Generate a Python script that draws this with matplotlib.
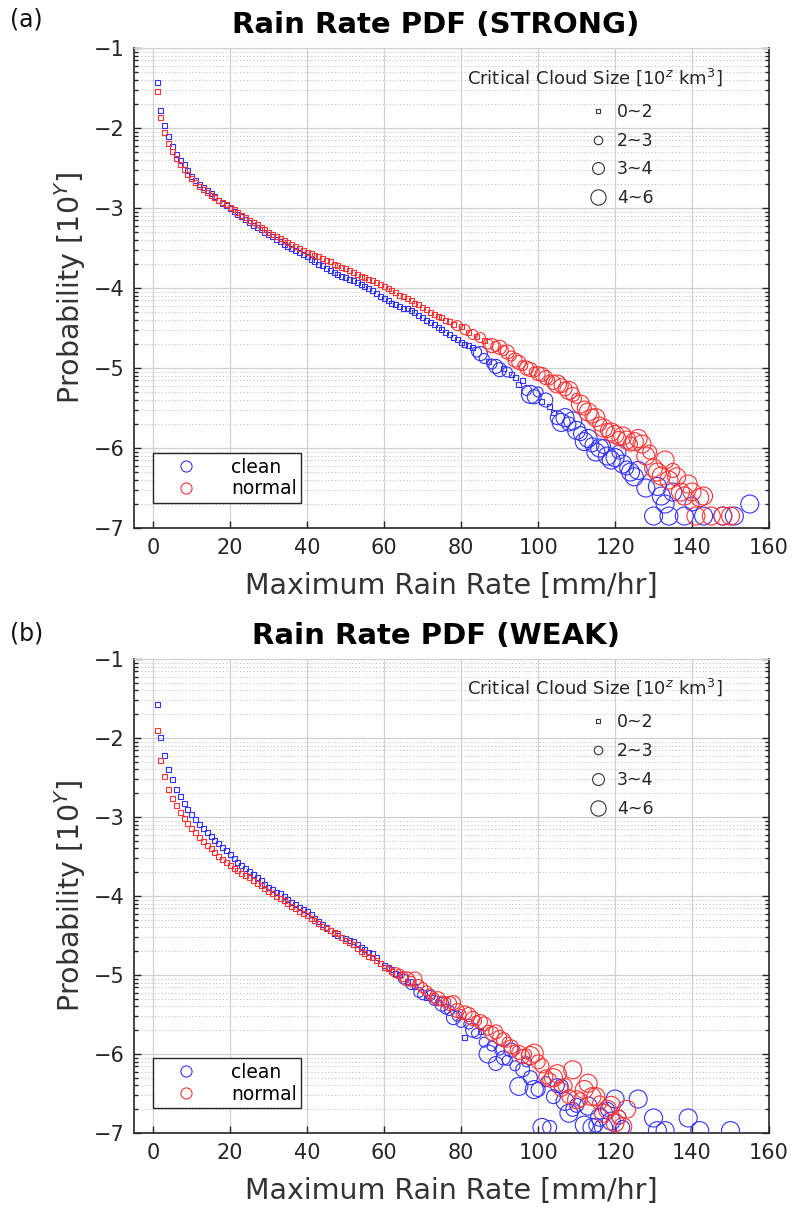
import numpy as np
import matplotlib.pyplot as plt
from matplotlib.lines import Line2D
from matplotlib.ticker import FixedLocator, FuncFormatter

# log10(probability) per 1 mm/hr bin
# ---- (a) STRONG ----
a_clean_head = [-1.43, -1.78, -1.97, -2.11, -2.23, -2.33, -2.40, -2.46, -2.53, -2.60,
                -2.65, -2.70, -2.74, -2.78, -2.82, -2.86, -2.90, -2.94, -2.97, -3.01,
                -3.04, -3.08, -3.11, -3.14, -3.18, -3.22, -3.24, -3.27, -3.30, -3.33,
                -3.36, -3.39, -3.42, -3.46, -3.48, -3.51, -3.53, -3.56, -3.58, -3.61,
                -3.64, -3.67, -3.70, -3.72, -3.75, -3.78, -3.80, -3.83, -3.85, -3.87,
                -3.89, -3.91, -3.93, -3.95, -3.98, -4.00, -4.03, -4.07, -4.10, -4.13,
                -4.16, -4.19, -4.21, -4.23, -4.25, -4.26, -4.28, -4.31, -4.34, -4.37,
                -4.40, -4.43, -4.46, -4.49, -4.52, -4.55]
a_clean_tail_x = [77, 78, 79, 80, 81, 82, 83, 84, 85, 86, 87, 88, 89, 90, 91, 92, 93, 94, 95, 96,
                  97, 98, 99, 100, 101, 102, 103, 104, 105, 106, 107, 108, 109, 110, 111, 112,
                  113, 114, 115, 116, 117, 118, 119, 120, 121, 122, 123, 124, 125, 126, 128,
                  130, 131, 132, 133, 134, 135, 138, 140, 143, 148, 151, 155]
a_clean_tail_y = [-4.58, -4.62, -4.64, -4.68, -4.70, -4.72, -4.74, -4.80, -4.82, -4.88, -4.92,
                  -4.95, -4.98, -5.02, -5.00, -5.05, -5.08, -5.12, -5.20, -5.16, -5.28, -5.33,
                  -5.36, -5.30, -5.42, -5.40, -5.48, -5.55, -5.62, -5.68, -5.62, -5.70, -5.66,
                  -5.78, -5.82, -5.92, -5.88, -5.96, -6.05, -6.00, -5.98, -6.10, -6.15, -6.12,
                  -6.05, -6.20, -6.25, -6.30, -6.36, -6.28, -6.50, -6.85, -6.48, -6.60, -6.70,
                  -6.85, -6.55, -6.85, -6.70, -6.85, -6.85, -6.85, -6.70]
a_clean_tail_c = [1, 1, 1, 1, 1, 1, 1, 2, 3, 2, 1, 2, 3, 3, 1, 2, 1, 1, 1, 1, 2, 4, 3, 2, 1, 3,
                  1, 1, 3, 4, 4, 3, 4, 4, 3, 4, 4, 3, 4, 4, 3, 4, 4, 4, 3, 4, 3, 4, 4, 4, 4,
                  4, 4, 4, 4, 4, 4, 4, 3, 4, 4, 4, 4]

a_normal_head = [-1.55, -1.87, -2.05, -2.19, -2.29, -2.38, -2.46, -2.52, -2.58, -2.63,
                 -2.68, -2.73, -2.77, -2.81, -2.84, -2.87, -2.90, -2.93, -2.96, -2.99,
                 -3.02, -3.06, -3.09, -3.12, -3.15, -3.18, -3.21, -3.24, -3.27, -3.30,
                 -3.33, -3.36, -3.38, -3.41, -3.43, -3.46, -3.48, -3.50, -3.53, -3.55,
                 -3.57, -3.59, -3.61, -3.63, -3.65, -3.67, -3.70, -3.72, -3.74, -3.76,
                 -3.78, -3.80, -3.83, -3.85, -3.87, -3.89, -3.91, -3.93, -3.96, -3.98,
                 -4.00, -4.03, -4.06, -4.09, -4.11, -4.13, -4.16, -4.19, -4.21, -4.24,
                 -4.27, -4.30, -4.33, -4.35, -4.37, -4.40]
a_normal_tail_x = [77, 78, 79, 80, 81, 82, 83, 84, 85, 86, 87, 88, 89, 90, 91, 92, 93, 94, 95,
                   96, 97, 98, 99, 100, 101, 102, 103, 104, 105, 106, 107, 108, 109, 110, 111,
                   112, 113, 114, 115, 116, 117, 118, 119, 120, 121, 122, 123, 124, 125, 126,
                   127, 128, 129, 130, 131, 132, 133, 134, 135, 136, 137, 138, 139, 140, 141,
                   142, 143, 145, 148, 150]
a_normal_tail_y = [-4.42, -4.45, -4.47, -4.48, -4.52, -4.55, -4.58, -4.60, -4.62, -4.66, -4.70,
                   -4.72, -4.73, -4.74, -4.78, -4.80, -4.85, -4.90, -4.93, -4.97, -5.00, -5.02,
                   -5.05, -5.07, -5.08, -5.12, -5.15, -5.18, -5.20, -5.22, -5.26, -5.28, -5.33,
                   -5.38, -5.45, -5.50, -5.55, -5.60, -5.62, -5.70, -5.75, -5.78, -5.80, -5.83,
                   -5.88, -5.85, -5.90, -5.95, -5.92, -5.88, -5.95, -6.10, -6.05, -6.25, -6.30,
                   -6.35, -6.15, -6.40, -6.28, -6.36, -6.55, -6.60, -6.45, -6.55, -6.85, -6.62,
                   -6.60, -6.85, -6.85, -6.85]
a_normal_tail_c = [1, 1, 2, 1, 2, 1, 2, 1, 2, 1, 2, 3, 2, 3, 2, 3, 2, 3, 3, 2, 3, 3, 2, 3, 3,
                   3, 2, 3, 4, 3, 3, 4, 3, 2, 4, 3, 4, 3, 4, 3, 4, 3, 4, 4, 3, 4, 4, 3, 4, 4,
                   4, 4, 3, 4, 4, 4, 4, 4, 3, 4, 4, 4, 4, 4, 4, 4, 4, 4, 4, 4]

# ---- (b) WEAK ----
b_clean_head = [-1.57, -1.99, -2.22, -2.40, -2.53, -2.65, -2.74, -2.83, -2.91, -2.97,
                -3.03, -3.09, -3.15, -3.20, -3.25, -3.30, -3.34, -3.38, -3.42, -3.47,
                -3.52, -3.57, -3.61, -3.65, -3.69, -3.73, -3.77, -3.81, -3.85, -3.89,
                -3.92, -3.95, -3.97, -4.01, -4.05, -4.08, -4.11, -4.14, -4.17, -4.20,
                -4.24, -4.28, -4.32, -4.36, -4.40, -4.44, -4.47, -4.50, -4.52, -4.54,
                -4.56, -4.58, -4.62, -4.65, -4.68, -4.71, -4.73]
b_clean_tail_x = [58, 59, 60, 61, 62, 63, 64, 65, 66, 67, 68, 69, 70, 71, 72, 73, 74, 75, 76,
                  77, 78, 79, 80, 81, 82, 83, 84, 85, 86, 87, 88, 89, 90, 91, 92, 93, 94, 95,
                  96, 97, 98, 99, 100, 101, 102, 103, 104, 105, 106, 107, 108, 109, 110, 112,
                  113, 114, 115, 116, 117, 118, 119, 120, 121, 122, 126, 130, 131, 133, 139,
                  142, 150]
b_clean_tail_y = [-4.78, -4.85, -4.88, -4.90, -4.93, -4.98, -5.00, -5.05, -5.08, -5.12, -5.15,
                  -5.22, -5.25, -5.28, -5.26, -5.32, -5.35, -5.37, -5.43, -5.45, -5.54, -5.52,
                  -5.60, -5.79, -5.62, -5.70, -5.74, -5.72, -5.85, -6.00, -5.90, -6.12, -5.95,
                  -6.05, -6.08, -5.95, -6.15, -6.41, -6.20, -6.10, -6.30, -6.45, -6.45, -6.93,
                  -6.35, -6.93, -6.54, -6.40, -6.41, -6.60, -6.75, -6.70, -6.65, -6.90, -6.66,
                  -6.93, -6.90, -6.80, -6.93, -6.70, -6.85, -6.57, -6.80, -6.93, -6.57, -6.81,
                  -6.97, -6.97, -6.81, -6.97, -6.97]
b_clean_tail_c = [1, 1, 1, 1, 1, 1, 1, 2, 1, 2, 1, 2, 2, 1, 2, 2, 1, 3, 2, 2, 3, 2, 2, 1, 2,
                  3, 2, 1, 2, 4, 2, 3, 2, 3, 2, 3, 2, 4, 3, 2, 3, 4, 3, 4, 2, 3, 3, 3, 3, 4,
                  4, 3, 3, 4, 4, 4, 3, 4, 4, 3, 4, 4, 3, 3, 4, 4, 4, 4, 4, 4, 4]

b_normal_head = [-1.90, -2.28, -2.49, -2.65, -2.76, -2.85, -2.94, -3.02, -3.08, -3.14,
                 -3.20, -3.26, -3.31, -3.36, -3.40, -3.45, -3.50, -3.54, -3.58, -3.62,
                 -3.65, -3.68, -3.71, -3.74, -3.77, -3.80, -3.84, -3.87, -3.91, -3.94,
                 -3.97, -4.00, -4.03, -4.06, -4.10, -4.13, -4.16, -4.19, -4.22, -4.25,
                 -4.28, -4.31, -4.35, -4.38, -4.41, -4.44, -4.46, -4.48, -4.52, -4.56,
                 -4.59, -4.62, -4.66, -4.70, -4.73, -4.76, -4.78]
b_normal_tail_x = [58, 59, 60, 61, 62, 63, 64, 65, 66, 67, 68, 69, 70, 71, 72, 73, 74, 75, 76,
                   77, 78, 79, 80, 81, 82, 83, 84, 85, 86, 87, 88, 89, 90, 91, 92, 93, 94, 95,
                   96, 97, 98, 99, 100, 101, 102, 103, 104, 105, 106, 107, 108, 109, 110, 111,
                   112, 113, 114, 115, 116, 117, 118, 119, 120, 121, 122, 123]
b_normal_tail_y = [-4.82, -4.86, -4.90, -4.92, -4.96, -4.97, -4.99, -5.02, -5.05, -5.08, -5.05,
                   -5.12, -5.16, -5.20, -5.24, -5.29, -5.30, -5.33, -5.34, -5.36, -5.35, -5.45,
                   -5.50, -5.48, -5.50, -5.55, -5.58, -5.59, -5.62, -5.70, -5.74, -5.72, -5.79,
                   -5.82, -5.85, -5.91, -5.95, -5.98, -6.03, -6.00, -6.02, -5.99, -6.10, -6.15,
                   -6.29, -6.33, -6.30, -6.25, -6.45, -6.40, -6.54, -6.20, -6.58, -6.58, -6.45,
                   -6.37, -6.54, -6.54, -6.62, -6.75, -6.70, -6.65, -6.87, -6.80, -6.92, -6.70]
b_normal_tail_c = [1, 1, 1, 1, 1, 2, 2, 2, 3, 2, 3, 2, 2, 2, 2, 2, 3, 2, 2, 3, 3, 3, 2, 3, 3,
                   3, 2, 3, 3, 2, 3, 3, 3, 3, 2, 3, 2, 3, 3, 2, 4, 4, 3, 3, 3, 3, 4, 4, 3, 3,
                   3, 4, 4, 3, 4, 4, 4, 4, 3, 4, 4, 4, 4, 3, 4, 4]

size_labels = ['0~2', '2~3', '3~4', '4~6']
marker_px = {1: 5, 2: 10, 3: 14, 4: 18}  # diameter in pixels


def series(head, tx, ty, tc):
    x = np.concatenate([np.arange(1, len(head) + 1), tx])
    y = np.concatenate([head, ty])
    c = np.concatenate([np.ones(len(head), dtype=int), tc])
    return x, y, c


def draw(ax, data, title):
    for (x, y, c), col in data:
        for k in (1, 2, 3, 4):
            m = c == k
            d = marker_px[k] * 72 / 100.0
            ax.scatter(x[m], y[m], s=d ** 2, marker='s' if k == 1 else 'o',
                       facecolors='none', edgecolors=col, linewidths=0.8, zorder=3)

    ax.set_xlim(-5, 160)
    ax.set_ylim(-7, -1)
    ax.set_xticks(np.arange(0, 161, 20))
    ax.set_yticks(np.arange(-7, -0.5, 1))
    minors = [d + np.log10(k) for d in range(-7, -1) for k in range(2, 10)]
    ax.yaxis.set_minor_locator(FixedLocator(minors))
    ax.yaxis.set_major_formatter(FuncFormatter(lambda v, p: '\u2212%d' % abs(v)))
    ax.grid(True, which='major', color='#d0d0d0', lw=0.9, zorder=0)
    ax.grid(True, which='minor', axis='y', color='#b8b8b8', lw=0.7, ls=(0, (1, 2.5)), zorder=0)
    ax.tick_params(which='both', direction='in', right=True, labelsize=15,
                   colors='#262626', width=1.0, pad=7)
    ax.tick_params(which='major', length=5)
    ax.tick_params(which='minor', length=3)
    for s in ('left', 'bottom', 'right'):
        ax.spines[s].set_color('#262626')
        ax.spines[s].set_linewidth(1.2)
    ax.spines['top'].set_color('#d0d0d0')
    ax.set_title(title, fontsize=21, fontweight='bold', pad=11, x=0.475)
    ax.set_xlabel('Maximum Rain Rate [mm/hr]', fontsize=20.5, color='#333333', labelpad=10)
    ax.set_ylabel('Probability [10$^{Y}$]', fontsize=20.5, color='#333333', labelpad=4)

    # clean / normal legend
    h = [Line2D([], [], ls='none', marker='o', mfc='none', mec=col, mew=0.8, ms=8)
         for _, col in data]
    leg = ax.legend(h, ['clean', 'normal'], loc='lower left', bbox_to_anchor=(0.03, 0.052),
                    borderaxespad=0, fontsize=13.5, fancybox=False, framealpha=1,
                    edgecolor='#262626', handletextpad=0.9, borderpad=0.25,
                    labelspacing=0.15, handlelength=3.0)
    leg.get_frame().set_linewidth(1.0)
    ax.add_artist(leg)

    # cloud size legend
    ax.text(0.726, 0.94, 'Critical Cloud Size [10$^{z}$ km$^{3}$]', transform=ax.transAxes,
            ha='center', va='center', fontsize=13, color='#262626')
    sh = [Line2D([], [], ls='none', marker='s' if k == 1 else 'o', mfc='none',
                 mec='#333333', mew=0.8, ms=marker_px[k] * 0.72 * (0.85 if k > 1 else 0.8))
          for k in (1, 2, 3, 4)]
    ax.legend(sh, size_labels, loc='upper left', bbox_to_anchor=(0.7, 0.9), frameon=False,
              fontsize=12.5, handletextpad=0.3, labelspacing=0.62, borderaxespad=0,
              handlelength=1.5, labelcolor='#262626')


fig = plt.figure(figsize=(7.95, 12.15), dpi=100)
ax1 = fig.add_axes([0.1686, 0.5654, 0.7987, 0.3951])
ax2 = fig.add_axes([0.1686, 0.0675, 0.7987, 0.3901])

draw(ax1, [(series(a_clean_head, a_clean_tail_x, a_clean_tail_y, a_clean_tail_c), '#3333ff'),
           (series(a_normal_head, a_normal_tail_x, a_normal_tail_y, a_normal_tail_c), '#ff3333')],
     'Rain Rate PDF (STRONG)')
draw(ax2, [(series(b_clean_head, b_clean_tail_x, b_clean_tail_y, b_clean_tail_c), '#3333ff'),
           (series(b_normal_head, b_normal_tail_x, b_normal_tail_y, b_normal_tail_c), '#ff3333')],
     'Rain Rate PDF (WEAK)')

fig.text(0.012, 1 - 20 / 1215, '(a)', fontsize=17, va='center', color='#111111')
fig.text(0.012, 1 - 633 / 1215, '(b)', fontsize=17, va='center', color='#111111')

fig.savefig('out.png', dpi=100)
